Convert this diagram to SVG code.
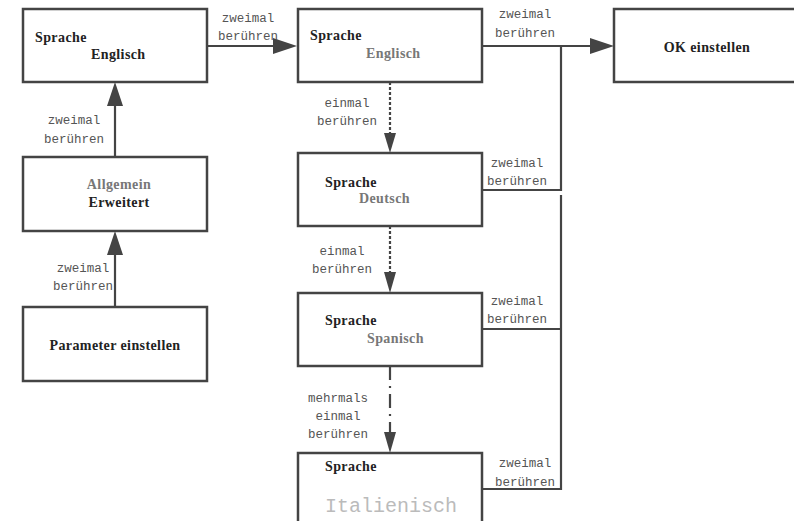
<svg xmlns="http://www.w3.org/2000/svg" width="794" height="521" viewBox="0 0 794 521">
<style>
.box{fill:#fff;stroke:#444;stroke-width:2.5}
.b{font-family:"Liberation Serif",serif;font-weight:bold;font-size:14px;fill:#222;letter-spacing:0.4px}
.g{fill:#777}
.m{font-family:"Liberation Mono",monospace;font-size:12.5px;fill:#555;text-anchor:middle}
.ln{fill:none;stroke:#444;stroke-width:2.2}
.dot{stroke-dasharray:3 2}
.dd{stroke-dasharray:14 6 2 6}
.ah{fill:#444;stroke:none}
.c{text-anchor:middle}
</style>
<rect width="794" height="521" fill="#fff"/>
<g id="node-sprache-englisch-1">
<rect class="box" x="23" y="9" width="184" height="73"/>
<text class="b" x="35" y="42">Sprache</text>
<text class="b" x="91" y="59">Englisch</text>
</g>
<g id="node-allgemein">
<rect class="box" x="23" y="157" width="184" height="74"/>
<text class="b g c" x="119" y="189">Allgemein</text>
<text class="b c" x="119" y="207">Erweitert</text>
</g>
<g id="node-parameter">
<rect class="box" x="23" y="307" width="184" height="74"/>
<text class="b c" x="115" y="350">Parameter einstellen</text>
</g>
<g id="node-sprache-englisch-2">
<rect class="box" x="298" y="9" width="184" height="73"/>
<text class="b" x="310" y="40">Sprache</text>
<text class="b g" x="366" y="58">Englisch</text>
</g>
<g id="node-ok">
<rect class="box" x="614" y="9" width="200" height="73"/>
<text class="b c" x="707" y="52">OK einstellen</text>
</g>
<g id="node-deutsch">
<rect class="box" x="298" y="153" width="184" height="73"/>
<text class="b" x="325" y="187">Sprache</text>
<text class="b g" x="359" y="203">Deutsch</text>
</g>
<g id="node-spanisch">
<rect class="box" x="298" y="293" width="184" height="73"/>
<text class="b" x="325" y="325">Sprache</text>
<text class="b g" x="367" y="343">Spanisch</text>
</g>
<g id="node-italienisch">
<rect class="box" x="298" y="453" width="184" height="90"/>
<text class="b" x="325" y="471">Sprache</text>
<text x="325" y="512" font-family="Liberation Mono, monospace" font-size="20" fill="#bbb">Italienisch</text>
</g>
<g id="connectors">
<line class="ln" x1="115" y1="307" x2="115" y2="254"/>
<polygon class="ah" points="115,231 107,255 123,255"/>
<line class="ln" x1="115" y1="157" x2="115" y2="105"/>
<polygon class="ah" points="115,82 107,106 123,106"/>
<line class="ln" x1="207" y1="46" x2="274" y2="46"/>
<polygon class="ah" points="297,46 273,38 273,54"/>
<line class="ln" x1="482" y1="46" x2="591" y2="46"/>
<polygon class="ah" points="614,46 590,38 590,54"/>
<polyline class="ln" points="482,190 561,190 561,46"/>
<polyline class="ln" points="561,195 561,489 482,489"/>
<line class="ln" x1="482" y1="329" x2="561" y2="329"/>
<line class="ln dot" x1="390" y1="82" x2="390" y2="135"/>
<polygon class="ah" points="390,153 384,133 396,133"/>
<line class="ln dot" x1="390" y1="226" x2="390" y2="274"/>
<polygon class="ah" points="390,293 384,272 396,272"/>
<line class="ln dd" x1="390" y1="366" x2="390" y2="434"/>
<polygon class="ah" points="390,453 384,432 396,432"/>
<text class="m" x="248" y="22">zweimal</text>
<text class="m" x="248" y="40">berühren</text>
<text class="m" x="74" y="124">zweimal</text>
<text class="m" x="74" y="143">berühren</text>
<text class="m" x="83" y="272">zweimal</text>
<text class="m" x="83" y="290">berühren</text>
<text class="m" x="525" y="18">zweimal</text>
<text class="m" x="525" y="37">berühren</text>
<text class="m" x="347" y="107">einmal</text>
<text class="m" x="347" y="125">berühren</text>
<text class="m" x="517" y="167">zweimal</text>
<text class="m" x="517" y="185">berühren</text>
<text class="m" x="342" y="255">einmal</text>
<text class="m" x="342" y="273">berühren</text>
<text class="m" x="517" y="305">zweimal</text>
<text class="m" x="517" y="323">berühren</text>
<text class="m" x="338" y="402">mehrmals</text>
<text class="m" x="338" y="420">einmal</text>
<text class="m" x="338" y="438">berühren</text>
<text class="m" x="525" y="467">zweimal</text>
<text class="m" x="525" y="486">berühren</text>
</g>
</svg>
